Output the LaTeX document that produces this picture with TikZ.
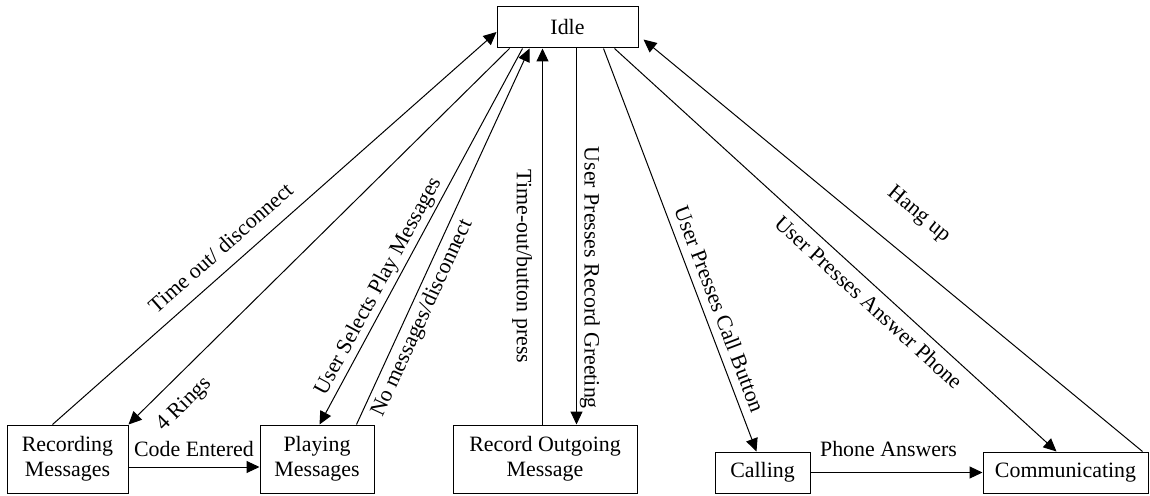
\documentclass[tikz,border=0pt]{standalone}
\usepackage{fontspec}
\setmainfont{Liberation Serif}
\usetikzlibrary{arrows.meta,calc}

\begin{document}
\begin{tikzpicture}[x=1pt,y=-1pt,
  font=\fontsize{21.9}{25}\selectfont,
  state/.style={draw,line width=1pt,rectangle,inner sep=0pt,align=center},
  trans/.style={line width=1pt,-{Triangle[length=13pt,width=12pt]}},
  lbl/.style={inner sep=3pt}]
\useasboundingbox (0,0) rectangle (1150,495);

% states
\node[state,minimum width=141pt,minimum height=41pt] (idle) at (567.5,27.5) {Idle};
\node[state,minimum width=121pt,minimum height=68pt] (rec)  at (67.5,459) {Recording\\Messages};
\node[state,minimum width=114pt,minimum height=68pt] (play) at (317,459) {Playing\\Messages};
\node[state,minimum width=184pt,minimum height=68pt] (rog)  at (545,459) {Record Outgoing\\Message};
\node[state,minimum width=95pt,minimum height=41pt]  (call) at (762.5,472.5) {Calling};
\node[state,minimum width=165pt,minimum height=41pt] (comm) at (1065.5,472.5) {Communicating};

% recording <-> idle
\draw[trans] ($(rec.north west)+(46,0)$) -- ($(idle.west)+(0,4.5)$)
  node[lbl,inner sep=13pt,pos=0.41,sloped,above] {Time out/ disconnect};
\draw[trans] ($(idle.south west)+(13,0)$) -- (rec.north east)
  node[lbl,inner sep=15pt,pos=0.9,sloped,below] {4 Rings};

% playing <-> idle
\draw[trans] ($(idle.south west)+(26,0)$) -- ($(play.north west)+(60,0)$)
  node[lbl,pos=0.65,sloped,above] {User Selects Play Messages};
\draw[trans] ($(play.north west)+(97,0)$) -- ($(idle.south west)+(33,0)$)
  node[lbl,inner sep=5pt,pos=0.30,sloped,below] {No messages/disconnect};

% record outgoing message <-> idle
\draw[trans] ($(rog.north west)+(90,0)$) -- ($(idle.south west)+(46,0)$)
  node[lbl,inner sep=10pt,pos=0.42,rotate=-90,below] {Time-out/button press};
\draw[trans] ($(idle.south west)+(80,0)$) -- ($(rog.north west)+(124,0)$)
  node[lbl,pos=0.61,sloped,above] {User Presses Record Greeting};

% calling / communicating
\draw[trans] ($(idle.south west)+(107,0)$) -- ($(call.north west)+(42,0)$)
  node[lbl,inner sep=8pt,pos=0.66,sloped,above] {User Presses Call Button};
\draw[trans] ($(idle.south west)+(118,0)$) -- ($(comm.north west)+(74,0)$)
  node[lbl,inner sep=8pt,pos=0.60,sloped,below] {User Presses Answer Phone};
\draw[trans] ($(comm.north east)+(-6,0)$) -- ($(idle.north east)+(5,33)$)
  node[lbl,inner sep=30pt,pos=0.5,sloped,above] {Hang up};

% horizontal transitions
\draw[trans] ($(rec.east)+(0,8)$) -- ($(play.west)+(0,8)$)
  node[lbl,midway,above,yshift=7pt] {Code Entered};
\draw[trans] (call.east) -- (comm.west)
  node[lbl,midway,above,xshift=-8pt,yshift=12pt] {Phone Answers};
\end{tikzpicture}
\end{document}
